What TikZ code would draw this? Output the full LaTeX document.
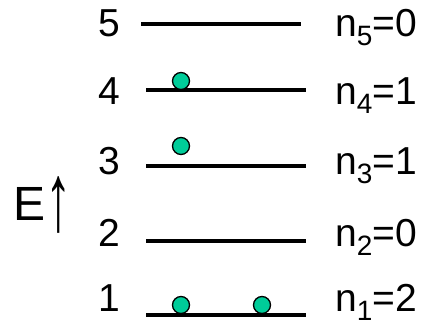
\documentclass[tikz,border=0pt]{standalone}
\usepackage{fontspec}
\setmainfont{Liberation Sans}
\definecolor{dotgreen}{RGB}{0,204,153}
\newcommand{\lvlsub}[1]{\raisebox{-9pt}{\fontsize{28}{28}\selectfont #1}}
\newcommand{\uparr}{\raisebox{-10pt}{\scalebox{1.1}[2.0]{↑}}}
\begin{document}
\begin{tikzpicture}[x=1pt,y=-1pt,
  level/.style={line width=4pt},
  particle/.style={circle,draw=black,line width=1.3pt,fill=dotgreen,minimum size=17pt,inner sep=0pt},
  lab/.style={anchor=base west,inner sep=0pt,font=\fontsize{39}{39}\selectfont},
  elab/.style={anchor=base west,inner sep=0pt,font=\fontsize{48}{48}\selectfont}]
\useasboundingbox (0,0) rectangle (429,325);
% level end points
\coordinate (a5) at (141,24);  \coordinate (b5) at (301,24);
\coordinate (a4) at (146,90);  \coordinate (b4) at (306,90);
\coordinate (a3) at (146,166); \coordinate (b3) at (306,166);
\coordinate (a2) at (146,241); \coordinate (b2) at (306,241);
\coordinate (a1) at (146,315); \coordinate (b1) at (306,315);
\draw[level] (a5) -- (b5);
\draw[level] (a4) -- (b4);
\draw[level] (a3) -- (b3);
\draw[level] (a2) -- (b2);
\draw[level] (a1) -- (b1);
% particles
\node[particle] (p4) at (181,81) {};
\node[particle] (p3) at (181,146) {};
\node[particle] (p1a) at (181,305) {};
\node[particle] (p1b) at (262,305) {};
% left labels
\node[lab] (l5) at (98,36) {5};
\node[lab] (l4) at (98,104) {4};
\node[lab] (l3) at (98,174) {3};
\node[lab] (l2) at (98,246) {2};
\node[lab] (l1) at (98,311) {1};
% right labels
\node[lab] (r5) at (335,36) {n\lvlsub{5}=0};
\node[lab] (r4) at (335,104) {n\lvlsub{4}=1};
\node[lab] (r3) at (335,174) {n\lvlsub{3}=1};
\node[lab] (r2) at (335,246) {n\lvlsub{2}=0};
\node[lab] (r1) at (335,311) {n\lvlsub{1}=2};
% energy axis label
\node[elab] (E) at (13,220) {E\uparr};
\end{tikzpicture}
\end{document}
